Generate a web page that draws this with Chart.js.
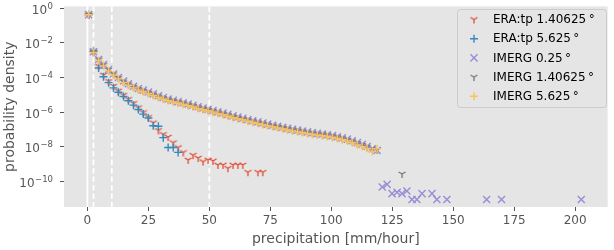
<!DOCTYPE html>
<html>
<head>
<meta charset="utf-8">
<script src="https://cdn.jsdelivr.net/npm/chart.js@4"></script>
<style>
  html, body { margin: 0; padding: 0; background: #fff; }
</style>
</head>
<body>
<canvas id="pdfChart" width="614" height="250"></canvas>
<script>
// histogram bin centres (mm/hour)
const bins = [0.5, 2.5, 4.6, 6.6, 8.7, 10.7, 12.7, 14.8, 16.8, 18.9,
  20.9, 22.9, 25.0, 27.0, 29.1, 31.1, 33.1, 35.2, 37.2, 39.3,
  41.3, 43.3, 45.4, 47.4, 49.5, 51.5, 53.5, 55.6, 57.6, 59.7,
  61.7, 63.7, 65.8, 67.8, 69.9, 71.9, 73.9, 76.0, 78.0, 80.1,
  82.1, 84.1, 86.2, 88.2, 90.3, 92.3, 94.3, 96.4, 98.4, 100.5,
  102.5, 104.5, 106.6, 108.6, 110.7, 112.7, 114.7, 116.8, 118.8, 120.9,
  122.9, 124.9, 127.0, 129.0, 131.0, 133.1, 135.1, 137.2, 139.2, 141.3,
  143.3, 145.3, 147.4];

const eraTp14 = [4.2e-1, 3.2e-3, 4.5e-4, 1.4e-4, 6.0e-5, 3.2e-5, 1.7e-5, 9.5e-6, 5.5e-6, 3.2e-6,
  1.8e-6, 9.5e-7, 5.0e-7, 2.4e-7, 8.7e-8, 5.1e-8, 3.6e-8, 1.7e-8, 8.9e-9, 4.6e-9,
  1.7e-9, 3.2e-9, 2.2e-9, 1.35e-9, 1.7e-9, 1.5e-9, 8.7e-10, 8.7e-10, 5.6e-10, 8.7e-10,
  8.7e-10, 8.7e-10, 3.3e-10, null, 3.3e-10, 3.3e-10];

const eraTp56 = [4.2e-1, 3.2e-3, 3.5e-4, 1.1e-4, 5.0e-5, 2.5e-5, 1.4e-5, 7.9e-6, 4.5e-6, 2.5e-6,
  1.4e-6, 7.6e-7, 4.5e-7, 1.6e-7, 1.5e-7, 3.3e-8, 8.9e-9, 8.9e-9, 4.6e-9];

const imerg025 = [4.3e-1, 3.1e-3, 1.1e-3, 5.5e-4, 2.9e-4, 1.6e-4, 1.0e-4, 6.2e-5, 4.3e-5, 3.1e-5,
  2.3e-5, 1.85e-5, 1.45e-5, 1.12e-5, 8.8e-6, 7.0e-6, 5.7e-6, 4.8e-6, 4.0e-6, 3.4e-6,
  2.9e-6, 2.45e-6, 2.0e-6, 1.7e-6, 1.45e-6, 1.22e-6, 1.02e-6, 8.7e-7, 7.3e-7, 6.0e-7,
  5.1e-7, 4.4e-7, 3.7e-7, 3.15e-7, 2.7e-7, 2.3e-7, 2.0e-7, 1.72e-7, 1.5e-7, 1.32e-7,
  1.15e-7, 1.0e-7, 9.0e-8, 8.0e-8, 7.1e-8, 6.3e-8, 5.8e-8, 5.3e-8, 4.8e-8, 4.3e-8,
  3.7e-8, 3.2e-8, 2.7e-8, 2.2e-8, 1.7e-8, 1.35e-8, 1.05e-8, 7.5e-9, 6.0e-9, 4.6e-11,
  6.5e-11, 1.9e-11, 2.3e-11, 1.9e-11, 2.7e-11, 8.7e-12, 8.7e-12, 1.9e-11, null, 1.9e-11,
  8.7e-12, null, 8.7e-12];
// a few isolated far-tail bins of IMERG 0.25
const imerg025TailX = [163.7, 169.8, 202.5];
const imerg025TailY = [8.7e-12, 8.7e-12, 8.7e-12];

const imerg14 = [4.2e-1, 3.0e-3, 1.05e-3, 5.2e-4, 2.7e-4, 1.5e-4, 9.3e-5, 5.7e-5, 4.0e-5, 2.85e-5,
  2.1e-5, 1.7e-5, 1.32e-5, 1.02e-5, 8.0e-6, 6.3e-6, 5.2e-6, 4.4e-6, 3.7e-6, 3.15e-6,
  2.7e-6, 2.25e-6, 1.82e-6, 1.55e-6, 1.32e-6, 1.12e-6, 9.3e-7, 7.9e-7, 6.6e-7, 5.4e-7,
  4.6e-7, 4.0e-7, 3.4e-7, 2.9e-7, 2.45e-7, 2.1e-7, 1.8e-7, 1.58e-7, 1.38e-7, 1.2e-7,
  1.05e-7, 9.1e-8, 8.2e-8, 7.2e-8, 6.4e-8, 5.7e-8, 5.3e-8, 4.8e-8, 4.4e-8, 3.9e-8,
  3.4e-8, 2.9e-8, 2.45e-8, 2.0e-8, 1.55e-8, 1.25e-8, 9.5e-9, 7.5e-9, 6.5e-9, null,
  null, null, null, 2.6e-10];

const imerg56 = [4.2e-1, 2.8e-3, 9.5e-4, 4.7e-4, 2.4e-4, 1.35e-4, 8.3e-5, 5.0e-5, 3.5e-5, 2.5e-5,
  1.86e-5, 1.48e-5, 1.15e-5, 8.9e-6, 6.9e-6, 5.5e-6, 4.5e-6, 3.8e-6, 3.2e-6, 2.75e-6,
  2.34e-6, 1.95e-6, 1.58e-6, 1.35e-6, 1.15e-6, 9.8e-7, 8.1e-7, 6.9e-7, 5.75e-7, 4.7e-7,
  4.0e-7, 3.5e-7, 2.95e-7, 2.5e-7, 2.14e-7, 1.82e-7, 1.58e-7, 1.38e-7, 1.2e-7, 1.05e-7,
  9.1e-8, 7.9e-8, 7.1e-8, 6.3e-8, 5.6e-8, 5.0e-8, 4.6e-8, 4.2e-8, 3.8e-8, 3.4e-8,
  2.95e-8, 2.5e-8, 2.1e-8, 1.66e-8, 1.26e-8, 1.0e-8, 7.9e-9, 5.2e-9, 7.6e-9];

const seriesNames = ['ERA:tp 1.40625\u2009°', 'ERA:tp 5.625\u2009°', 'IMERG 0.25\u2009°',
  'IMERG 1.40625\u2009°', 'IMERG 5.625\u2009°'];

// threshold lines (first solid, rest dashed)
const thresholds = [0, 2.5, 10, 50];

const yTicks = [1, 1e-2, 1e-4, 1e-6, 1e-8, 1e-10];
const yTickExps = ['0', '\u22122', '\u22124', '\u22126', '\u22128', '\u221210'];

const FONT = '"DejaVu Sans", sans-serif';
const colors = ['#E24A33', '#348ABD', '#988ED5', '#777777', '#FBC15E'];

// matplotlib "tri_down" marker, drawn once on a little canvas
function triDown(color) {
  const c = document.createElement('canvas');
  c.width = 12; c.height = 12;
  const g = c.getContext('2d');
  const r = 4;
  g.strokeStyle = color;
  g.lineWidth = 1.3;
  g.beginPath();
  g.moveTo(6, 6); g.lineTo(6, 6 + r);
  g.moveTo(6, 6); g.lineTo(6 - r * 0.866, 6 - r * 0.5);
  g.moveTo(6, 6); g.lineTo(6 + r * 0.866, 6 - r * 0.5);
  g.stroke();
  return c;
}

function pts(vals) {
  return vals.map((y, i) => ({ x: bins[i], y: y })).filter(p => p.y !== null);
}

const markers = [
  { style: triDown(colors[0]), radius: 4 },
  { style: 'cross', radius: 4 },
  { style: 'crossRot', radius: 5 },
  { style: triDown(colors[3]), radius: 4 },
  { style: 'cross', radius: 4 }
];

const dataSets = [
  pts(eraTp14),
  pts(eraTp56),
  pts(imerg025).concat(imerg025TailX.map((x, i) => ({ x: x, y: imerg025TailY[i] }))),
  pts(imerg14),
  pts(imerg56)
];

const datasets = dataSets.map((d, i) => ({
  label: seriesNames[i],
  data: d,
  pointStyle: markers[i].style,
  pointRadius: markers[i].radius,
  borderColor: colors[i],
  backgroundColor: colors[i],
  pointBorderWidth: 1.4,
  order: 5 - i   // matplotlib draws the later series on top
}));

const decor = {
  id: 'decor',
  beforeDraw(chart) {
    const { ctx, chartArea: a } = chart;
    ctx.save();
    ctx.fillStyle = '#E5E5E5';
    ctx.fillRect(a.left, a.top, a.right - a.left, a.bottom - a.top);
    ctx.restore();
  },
  beforeDatasetsDraw(chart) {
    const { ctx, chartArea: a, scales: { x } } = chart;
    ctx.save();
    ctx.strokeStyle = '#ffffff';
    ctx.lineWidth = 1.8;
    thresholds.forEach((t, i) => {
      const px = x.getPixelForValue(t);
      ctx.setLineDash(i === 0 ? [] : [5.5, 3]);
      ctx.beginPath();
      ctx.moveTo(px, a.top);
      ctx.lineTo(px, a.bottom);
      ctx.stroke();
    });
    ctx.restore();
  },
  afterDraw(chart) {
    const { ctx, chartArea: a, scales: { y } } = chart;
    ctx.save();
    ctx.fillStyle = '#555555';
    ctx.textAlign = 'left';
    ctx.textBaseline = 'alphabetic';

    // y tick labels 10^n
    const right = 53;
    yTicks.forEach((v, i) => {
      const py = y.getPixelForValue(v);
      ctx.font = '12px ' + FONT;
      const w1 = ctx.measureText('10').width;
      ctx.font = '8.5px ' + FONT;
      const w2 = ctx.measureText(yTickExps[i]).width;
      ctx.font = '12px ' + FONT;
      ctx.fillText('10', right - w2 - w1 - 0.5, py + 5.5);
      ctx.font = '8.5px ' + FONT;
      ctx.fillText(yTickExps[i], right - w2, py + 0.5);
    });

    // axis titles
    ctx.font = '14px ' + FONT;
    ctx.textAlign = 'center';
    ctx.textBaseline = 'middle';
    ctx.fillText('precipitation [mm/hour]', (a.left + a.right) / 2, 239);
    ctx.save();
    ctx.translate(10.5, (a.top + a.bottom) / 2);
    ctx.rotate(-Math.PI / 2);
    ctx.fillText('probability density', 0, 0);
    ctx.restore();

    // legend
    const lx = 457, ly = 9, lw = 149, lh = 98;
    ctx.beginPath();
    ctx.roundRect(lx + 0.5, ly + 0.5, lw, lh, 3);
    ctx.fillStyle = 'rgba(229,229,229,0.8)';
    ctx.fill();
    ctx.strokeStyle = '#CCCCCC';
    ctx.lineWidth = 1;
    ctx.stroke();

    ctx.font = '12px ' + FONT;
    ctx.textAlign = 'left';
    ctx.textBaseline = 'middle';
    seriesNames.forEach((name, i) => {
      const my = 19.5 + i * 19.2;
      const mx = 474;
      const m = markers[i];
      ctx.strokeStyle = colors[i];
      ctx.lineWidth = 1.4;
      if (m.style === 'cross') {
        ctx.beginPath();
        ctx.moveTo(mx - m.radius, my); ctx.lineTo(mx + m.radius, my);
        ctx.moveTo(mx, my - m.radius); ctx.lineTo(mx, my + m.radius);
        ctx.stroke();
      } else if (m.style === 'crossRot') {
        const d = m.radius * 0.707;
        ctx.beginPath();
        ctx.moveTo(mx - d, my - d); ctx.lineTo(mx + d, my + d);
        ctx.moveTo(mx - d, my + d); ctx.lineTo(mx + d, my - d);
        ctx.stroke();
      } else {
        ctx.drawImage(m.style, mx - 6, my - 6);
      }
      ctx.fillStyle = '#000000';
      ctx.fillText(name, 493, my + 0.5);
    });
    ctx.restore();
  }
};

new Chart(document.getElementById('pdfChart'), {
  type: 'scatter',
  data: { datasets: datasets },
  options: {
    responsive: false,
    animation: false,
    events: [],
    layout: { padding: { top: 4, right: 2, left: 0, bottom: 0 } },
    plugins: {
      legend: { display: false },
      tooltip: { enabled: false }
    },
    scales: {
      x: {
        type: 'linear',
        min: -9.6,
        max: 213.3,
        afterFit(s) { s.height = 43; },
        ticks: {
          stepSize: 25,
          includeBounds: false,
          maxRotation: 0,
          padding: 3,
          color: '#555555',
          font: { family: FONT, size: 12 }
        },
        grid: { drawOnChartArea: false, tickLength: 4, tickColor: '#555555', tickWidth: 1 },
        border: { display: false }
      },
      y: {
        type: 'logarithmic',
        min: 3.2e-12,
        max: 1.29,
        afterFit(s) { s.width = 64; },
        afterBuildTicks(s) { s.ticks = yTicks.map(v => ({ value: v })); },
        ticks: { display: false },
        grid: { drawOnChartArea: false, tickLength: 4, tickColor: '#555555', tickWidth: 1 },
        border: { display: false }
      }
    }
  },
  plugins: [decor]
});
</script>
</body>
</html>
